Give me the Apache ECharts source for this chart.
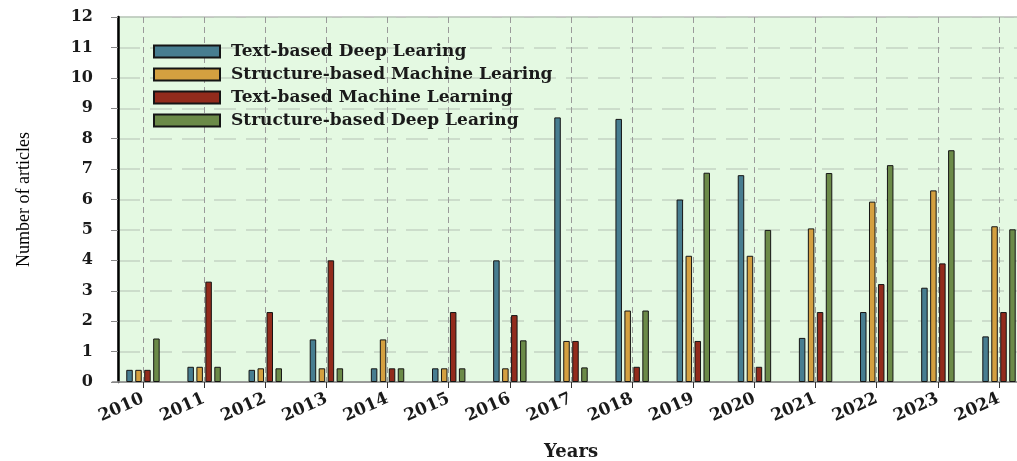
<!DOCTYPE html>
<html>
<head>
<meta charset="utf-8">
<script src="https://cdn.jsdelivr.net/npm/echarts@6/dist/echarts.min.js"></script>
<style>html,body{margin:0;padding:0;background:#fff}#c{width:1017px;height:461px}</style>
</head>
<body>
<div id="c"></div>
<script>
var years = ['2010','2011','2012','2013','2014','2015','2016','2017','2018','2019','2020','2021','2022','2023','2024'];
var seriesNames = ['Text-based Deep Learing','Structure-based Machine Learing','Text-based Machine Learning','Structure-based Deep Learing'];
var textDeep = [0.4,0.5,0.4,1.4,0.45,0.45,4.0,8.7,8.65,6.0,6.8,1.45,2.3,3.1,1.5];
var structMachine = [0.4,0.5,0.45,0.45,1.4,0.45,0.45,1.35,2.35,4.15,4.15,5.05,5.93,6.3,5.12];
var textMachine = [0.4,3.3,2.3,4.0,0.45,2.3,2.2,1.35,0.5,1.35,0.5,2.3,3.22,3.9,2.3];
var structDeep = [1.43,0.5,0.45,0.45,0.45,0.45,1.37,0.48,2.35,6.88,5.0,6.87,7.13,7.62,5.02];
var yTicks = {min:0, max:12, interval:1};

var colors = ['#477d90','#d4a040','#922b1c','#6b8a48'];
var dataSets = [textDeep, structMachine, textMachine, structDeep];
var serif = 'DejaVu Serif';

var chart = echarts.init(document.getElementById('c'), null, {renderer:'canvas'});
var series = dataSets.map(function(d, i){
  return {
    name: seriesNames[i], type:'bar', xAxisIndex:0, yAxisIndex:0,
    data: d, barWidth: 6.5, barGap: '38%',
    itemStyle: {color: colors[i], borderColor:'#151515', borderWidth:1}
  };
});
chart.setOption({
  backgroundColor:'#ffffff',
  animation:false,
  grid:[
    {left:112.4, right:-12.6, top:17, bottom:79, show:false, containLabel:false, outerBoundsMode:'none'},
    {left:118, right:-5, top:17, bottom:79, show:true, backgroundColor:'#e4f9e2', borderColor:'#9a9a9a', borderWidth:1, containLabel:false, outerBoundsMode:'none'}
  ],
  legend:{
    orient:'vertical', left:148, top:38, icon:'rect',
    itemWidth:66, itemHeight:12, itemGap:6,
    data: seriesNames,
    textStyle:{fontFamily:serif, fontWeight:'bold', fontSize:17, color:'#1a1a1a', lineHeight:12, padding:[0,0,0,6]}
  },
  xAxis:[
    {type:'category', gridIndex:0, data:years,
     axisLine:{show:true, lineStyle:{color:'#8a8a8a', width:1.5}},
     axisTick:{show:true, alignWithLabel:true, length:6, lineStyle:{color:'#333'}},
     axisLabel:{rotate:24, margin:16, fontFamily:serif, fontWeight:'bold', fontSize:17, color:'#1a1a1a'},
     splitLine:{show:true, alignWithLabel:true, lineStyle:{color:'#9a9a9a', type:[6,4], width:1}},
     name:'Years', nameLocation:'middle', nameGap:61,
     nameTextStyle:{fontFamily:serif, fontWeight:'bold', fontSize:18, color:'#1a1a1a'}
    },
    {type:'value', gridIndex:1, show:false, min:0, max:1}
  ],
  yAxis:[
    {type:'value', gridIndex:0, min:yTicks.min, max:yTicks.max, interval:yTicks.interval, offset:-5.6,
     axisLine:{show:true, lineStyle:{color:'#000', width:2.5}},
     axisTick:{show:true, length:7, lineStyle:{color:'#888'}},
     axisLabel:{margin:25, fontFamily:serif, fontWeight:'bold', fontSize:16, color:'#1a1a1a'},
     splitLine:{show:false},
     name:'Number of articles', nameLocation:'middle', nameGap:85,
     nameTextStyle:{fontFamily:'Liberation Serif', fontSize:18, color:'#000'}
    },
    {type:'value', gridIndex:1, min:yTicks.min, max:yTicks.max, interval:yTicks.interval,
     axisLine:{show:false}, axisTick:{show:false}, axisLabel:{show:false},
     splitLine:{show:true, lineStyle:{color:'#c4d4c4', type:[22,10], width:1.5}}
    }
  ],
  series: series
});
</script>
</body>
</html>
